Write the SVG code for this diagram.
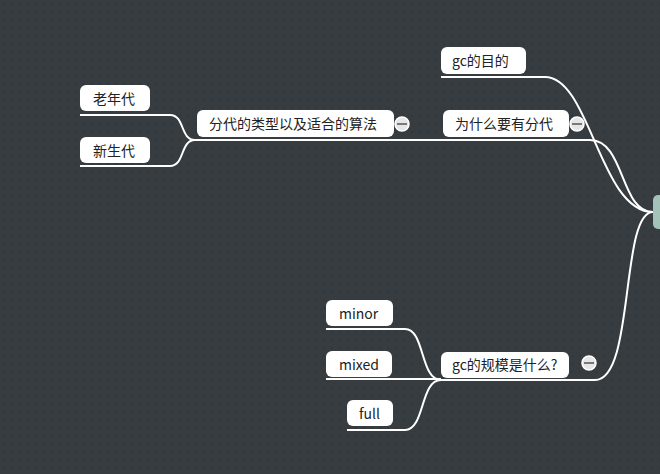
<svg xmlns="http://www.w3.org/2000/svg" width="660" height="474" viewBox="0 0 660 474">
<defs>
<pattern id="dots" width="8" height="8" patternUnits="userSpaceOnUse"><rect width="8" height="8" fill="#363c40"/><circle cx="4" cy="4" r="0.8" fill="#2c3134"/></pattern>
<style>
.n{fill:#fff;rx:6;ry:6}
.t{font-family:"Noto Sans CJK SC","Noto Sans",sans-serif;font-size:14px;fill:#222}
.c{fill:none;stroke:#fff;stroke-width:2}
.b{fill:#e6e6e6;stroke:#fff;stroke-width:1.5}
.m{stroke:#555;stroke-width:1.5}
</style>
</defs>
<rect width="660" height="474" fill="url(#dots)"/>
<g id="connectors">
<path class="c" d="M441 77H545C590 77 600 212 653 212"/>
<path class="c" d="M443 140H590C625 140 620 212 653 212"/>
<path class="c" d="M190 140H443"/>
<path class="c" d="M441 380H595C635 380 620 212 653 212"/>
<path class="c" d="M80 115H170C185 115 180 140 195 140"/>
<path class="c" d="M80 166H170C185 166 180 140 195 140"/>
<path class="c" d="M326 329H405C425 329 420 380 441 380"/>
<path class="c" d="M326 379H441"/>
<path class="c" d="M347 430H405C425 430 420 380 441 380"/>
</g>
<g id="root"><rect x="653" y="195" width="20" height="34" rx="5" fill="#a3c2b8"/></g>
<g id="n1"><rect class="n" x="441" y="47" width="85" height="27"/><text class="t" x="452" y="66">gc的目的</text></g>
<g id="n2"><rect class="n" x="443" y="110" width="126" height="27"/><text class="t" x="455" y="129">为什么要有分代</text><circle class="b" cx="577" cy="124" r="7"/><line class="m" x1="572" y1="124" x2="582" y2="124"/></g>
<g id="n3"><rect class="n" x="197" y="110" width="197" height="27"/><text class="t" x="209" y="129">分代的类型以及适合的算法</text><circle class="b" cx="402" cy="124" r="7"/><line class="m" x1="397" y1="124" x2="407" y2="124"/></g>
<g id="n4"><rect class="n" x="80" y="85" width="70" height="26"/><text class="t" x="93" y="104">老年代</text></g>
<g id="n5"><rect class="n" x="80" y="137" width="70" height="26"/><text class="t" x="93" y="156">新生代</text></g>
<g id="n6"><rect class="n" x="441" y="352" width="128" height="26"/><text class="t" x="452" y="370">gc的规模是什么?</text><circle class="b" cx="589" cy="363" r="7"/><line class="m" x1="584" y1="363" x2="594" y2="363"/></g>
<g id="n7"><rect class="n" x="326" y="300" width="67" height="26"/><text class="t" x="339" y="319">minor</text></g>
<g id="n8"><rect class="n" x="326" y="351" width="66" height="26"/><text class="t" x="339" y="370">mixed</text></g>
<g id="n9"><rect class="n" x="347" y="400" width="46" height="26"/><text class="t" x="359" y="419">full</text></g>
</svg>
